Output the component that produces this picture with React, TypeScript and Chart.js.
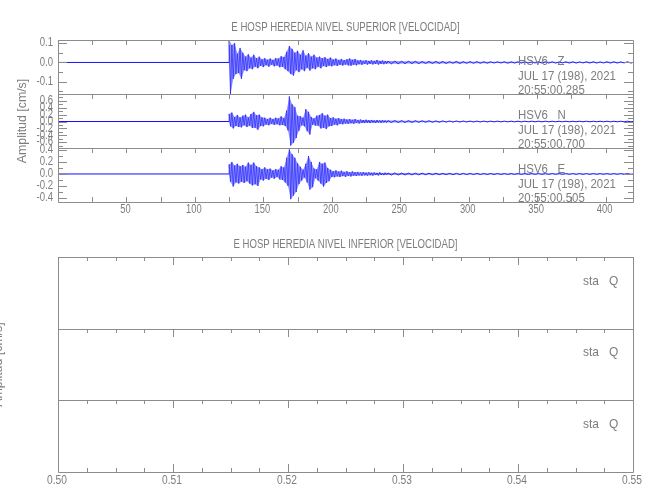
import React, { useEffect, useRef } from 'react';
import { Chart, registerables } from 'chart.js';

Chart.register(...registerables);

// ---------------- texts ----------------
const TOP_TITLE = 'E HOSP HEREDIA NIVEL SUPERIOR [VELOCIDAD]';
const BOTTOM_TITLE = 'E HOSP HEREDIA NIVEL INFERIOR [VELOCIDAD]';
const Y_TITLE = 'Amplitud [cm/s]';
const STATION = 'HSV6';
const CHANNELS = ['Z', 'N', 'E'];
const DATE_LABEL = 'JUL 17 (198), 2021';
const START_TIMES = ['20:55:00.285', '20:55:00.700', '20:55:00.505'];
const EMPTY_LABEL = 'sta   Q';

// ---------------- time axis (s) ----------------
const TIME_MIN = 0;
const TIME_MAX = 420;
const TIME_MINOR_STEP = 25;
const timeTickLabels = [50, 100, 150, 200, 250, 300, 350, 400];
const ENVELOPE_START = 125; // first 2-s envelope bin
const ENVELOPE_BIN = 2;
const TAIL_START = 241; // coda, 5-s bins
const TAIL_BIN = 5;

// ---------------- Z component (cm/s) ----------------
const zRange = [-0.163, 0.116];
const zTickLabels = [0.1, 0.0, -0.1];
const zUpper = [0.116, 0.09, 0.1, 0.045, 0.075, 0.05, 0.03, 0.042, 0.025, 0.04, 0.022, 0.03, 0.016, 0.022, 0.014, 0.02, 0.013, 0.022, 0.02, 0.032, 0.028, 0.055, 0.085, 0.07, 0.05, 0.06, 0.04, 0.063, 0.035, 0.048, 0.03, 0.04, 0.025, 0.03, 0.022, 0.027, 0.018, 0.025, 0.015, 0.02, 0.013, 0.018, 0.012, 0.016, 0.02, 0.014, 0.018, 0.01, 0.013, 0.009, 0.012, 0.008, 0.011, 0.008, 0.013, 0.008, 0.01, 0.007];
const zLower = [-0.163, -0.085, -0.06, -0.055, -0.085, -0.04, -0.045, -0.03, -0.035, -0.022, -0.03, -0.017, -0.024, -0.014, -0.022, -0.012, -0.02, -0.016, -0.025, -0.022, -0.035, -0.045, -0.06, -0.068, -0.04, -0.05, -0.035, -0.045, -0.028, -0.042, -0.03, -0.035, -0.022, -0.03, -0.018, -0.024, -0.017, -0.02, -0.014, -0.018, -0.012, -0.016, -0.011, -0.015, -0.017, -0.012, -0.015, -0.009, -0.012, -0.008, -0.011, -0.007, -0.01, -0.007, -0.011, -0.007, -0.009, -0.006];
const zTail = [0.007, 0.007, 0.006, 0.006, 0.006, 0.005, 0.005, 0.005, 0.005, 0.004, 0.005, 0.004, 0.004, 0.004, 0.0035, 0.003, 0.003, 0.0035, 0.003, 0.003, 0.003, 0.0025, 0.003, 0.003, 0.003, 0.0025, 0.003, 0.003, 0.0025, 0.003, 0.003, 0.0025, 0.003, 0.003, 0.0025, 0.003];

// ---------------- N component (cm/s) ----------------
const nRange = [-0.77, 0.8];
const nTickLabels = [0.6, 0.4, 0.2, 0.0, -0.2, -0.4, -0.6];
const nUpper = [0.22, 0.26, 0.13, 0.19, 0.12, 0.17, 0.2, 0.12, 0.22, 0.28, 0.18, 0.2, 0.12, 0.11, 0.07, 0.11, 0.07, 0.11, 0.09, 0.15, 0.1, 0.32, 0.73, 0.5, 0.42, 0.17, 0.15, 0.11, 0.36, 0.28, 0.13, 0.09, 0.17, 0.19, 0.24, 0.17, 0.2, 0.1, 0.12, 0.08, 0.1, 0.07, 0.08, 0.06, 0.07, 0.05, 0.07, 0.045, 0.055, 0.04, 0.05, 0.035, 0.045, 0.03, 0.04, 0.03, 0.035, 0.028];
const nLower = [-0.14, -0.2, -0.13, -0.16, -0.17, -0.11, -0.16, -0.12, -0.19, -0.18, -0.24, -0.13, -0.14, -0.09, -0.11, -0.07, -0.1, -0.08, -0.11, -0.1, -0.13, -0.26, -0.7, -0.62, -0.48, -0.27, -0.11, -0.14, -0.28, -0.38, -0.09, -0.12, -0.12, -0.2, -0.18, -0.22, -0.14, -0.13, -0.09, -0.11, -0.07, -0.08, -0.06, -0.07, -0.05, -0.065, -0.045, -0.055, -0.04, -0.045, -0.035, -0.045, -0.03, -0.04, -0.03, -0.035, -0.025, -0.03];
const nTail = [0.028, 0.027, 0.025, 0.025, 0.022, 0.02, 0.02, 0.018, 0.017, 0.015, 0.015, 0.014, 0.013, 0.012, 0.012, 0.011, 0.011, 0.01, 0.01, 0.01, 0.009, 0.009, 0.009, 0.009, 0.008, 0.008, 0.008, 0.008, 0.008, 0.008, 0.008, 0.008, 0.008, 0.008, 0.008, 0.008];

// ---------------- E component (cm/s) ----------------
const eRange = [-0.467, 0.433];
const eTickLabels = [0.4, 0.2, 0.0, -0.2, -0.4];
const eUpper = [0.16, 0.2, 0.14, 0.17, 0.13, 0.15, 0.12, 0.19, 0.15, 0.19, 0.13, 0.11, 0.08, 0.11, 0.08, 0.09, 0.06, 0.08, 0.07, 0.13, 0.11, 0.27, 0.41, 0.33, 0.27, 0.18, 0.12, 0.07, 0.17, 0.3, 0.2, 0.09, 0.08, 0.2, 0.17, 0.19, 0.1, 0.07, 0.045, 0.06, 0.04, 0.055, 0.035, 0.045, 0.03, 0.042, 0.03, 0.035, 0.025, 0.032, 0.022, 0.03, 0.02, 0.025, 0.018, 0.024, 0.016, 0.02];
const eLower = [-0.13, -0.21, -0.14, -0.16, -0.13, -0.15, -0.12, -0.16, -0.19, -0.17, -0.2, -0.09, -0.11, -0.08, -0.1, -0.06, -0.08, -0.05, -0.09, -0.1, -0.14, -0.2, -0.42, -0.36, -0.3, -0.17, -0.11, -0.06, -0.14, -0.26, -0.22, -0.07, -0.11, -0.16, -0.21, -0.15, -0.12, -0.05, -0.055, -0.04, -0.05, -0.035, -0.048, -0.032, -0.04, -0.028, -0.034, -0.025, -0.03, -0.022, -0.028, -0.02, -0.025, -0.018, -0.022, -0.016, -0.019, -0.015];
const eTail = [0.017, 0.017, 0.016, 0.015, 0.014, 0.013, 0.012, 0.012, 0.011, 0.011, 0.01, 0.01, 0.009, 0.009, 0.008, 0.008, 0.008, 0.007, 0.007, 0.007, 0.007, 0.006, 0.006, 0.006, 0.006, 0.006, 0.006, 0.006, 0.006, 0.006, 0.006, 0.006, 0.006, 0.006, 0.006, 0.006];

// y minor tick spacing per component
const yMinorSteps = [0.05, 0.1, 0.1];

// ---------------- lower (empty) panel ----------------
const BOTTOM_X_RANGE = [0.5, 0.55];
const BOTTOM_MINOR_STEP = 0.0025;
const BOTTOM_MAJOR_STEP = 0.01;
const bottomTickLabels = ['0.50', '0.51', '0.52', '0.53', '0.54', '0.55'];
const EMPTY_RANGE = [-1, 1];

// ---------------- style ----------------
const FONT = "'Liberation Sans', Arial, sans-serif";
const TEXT_COLOR = '#7d7d7d';
const AXIS_COLOR = '#8c8c8c';
const TRACE_COLOR = '#1010ff';
const TRACE_FILL = 'rgba(60, 60, 255, 0.55)';

type Pt = { x: number; y: number };

// one side of the envelope (upper at bin start, lower half a bin later), plus coda bins
function buildEnvelope(side: number[], tail: number[], sign: number): Pt[] {
  const shift = sign > 0 ? 0 : 0.5;
  const pts: Pt[] = [
    { x: TIME_MIN, y: 0 },
    { x: ENVELOPE_START, y: 0 },
  ];
  side.forEach((v, i) => {
    pts.push({ x: ENVELOPE_START + (i + shift) * ENVELOPE_BIN, y: v });
  });
  tail.forEach((a, i) => {
    pts.push({ x: TAIL_START + (i + shift) * TAIL_BIN, y: sign * a });
  });
  pts.push({ x: TIME_MAX, y: 0 });
  return pts;
}

// the trace itself: alternate between the upper and lower envelope values of each bin
function buildTrace(upper: number[], lower: number[], tail: number[]): Pt[] {
  const pts: Pt[] = [
    { x: TIME_MIN, y: 0 },
    { x: ENVELOPE_START, y: 0 },
  ];
  upper.forEach((u, i) => {
    const t = ENVELOPE_START + i * ENVELOPE_BIN;
    pts.push({ x: t, y: u });
    pts.push({ x: t + ENVELOPE_BIN / 2, y: lower[i] });
  });
  tail.forEach((a, i) => {
    const t = TAIL_START + i * TAIL_BIN;
    pts.push({ x: t, y: a });
    pts.push({ x: t + TAIL_BIN / 2, y: -a });
  });
  pts.push({ x: TIME_MAX, y: 0 });
  return pts;
}

const crisp = (v: number) => Math.round(v) + 0.5;
const isMultiple = (v: number, step: number) => Math.abs(v / step - Math.round(v / step)) < 1e-6;
function stepsWithin(min: number, max: number, step: number): number[] {
  const out: number[] = [];
  for (let k = Math.ceil(min / step - 1e-9); k * step <= max + 1e-9; k++) out.push(k * step);
  return out;
}

const topIds = ['yZ', 'yN', 'yE'];
const bottomIds = ['q1', 'q2', 'q3'];
const topRanges = [zRange, nRange, eRange];
const topTickLabels = [zTickLabels, nTickLabels, eTickLabels];
const components = [
  { upper: zUpper, lower: zLower, tail: zTail },
  { upper: nUpper, lower: nLower, tail: nTail },
  { upper: eUpper, lower: eLower, tail: eTail },
];

function drawText(
  ctx: CanvasRenderingContext2D,
  text: string,
  x: number,
  y: number,
  size: number,
  squeeze: number,
  align: CanvasTextAlign,
  rotate = false,
) {
  ctx.save();
  ctx.translate(x, y);
  if (rotate) ctx.rotate(-Math.PI / 2);
  ctx.scale(squeeze, 1);
  ctx.font = `${size}px ${FONT}`;
  ctx.textAlign = align;
  ctx.textBaseline = 'middle';
  ctx.fillStyle = TEXT_COLOR;
  ctx.fillText(text, 0, 0);
  ctx.restore();
}

function framesPlugin(kind: 'top' | 'bottom') {
  return {
    id: 'frames-' + kind,
    afterDraw(chart: any) {
      const { ctx, chartArea } = chart;
      const xs = chart.scales.x;
      const left = chartArea.left;
      const right = chartArea.right;
      const isTop = kind === 'top';
      const ids = isTop ? topIds : bottomIds;
      const xMinor = isTop ? TIME_MINOR_STEP : BOTTOM_MINOR_STEP;
      const xTicks = stepsWithin(xs.min, xs.max, xMinor);
      const xTickLen = (v: number) => (isTop ? 5 : isMultiple(v, BOTTOM_MAJOR_STEP) ? 8 : 4);

      ctx.save();
      ctx.strokeStyle = AXIS_COLOR;
      ctx.lineWidth = 1;
      ids.forEach((id, idx) => {
        const s = chart.scales[id];
        const top = Math.round(s.top);
        const bottom = Math.round(s.bottom);
        ctx.beginPath();
        ctx.rect(crisp(left), crisp(top), Math.round(right) - Math.round(left), bottom - top);
        ctx.stroke();
        ctx.beginPath();
        xTicks.forEach((v) => {
          const px = crisp(xs.getPixelForValue(v));
          const len = xTickLen(v);
          ctx.moveTo(px, top);
          ctx.lineTo(px, top + len);
          if (idx === ids.length - 1) {
            ctx.moveTo(px, bottom);
            ctx.lineTo(px, bottom - len);
          }
        });
        if (isTop) {
          const labels = topTickLabels[idx];
          stepsWithin(s.min, s.max, yMinorSteps[idx]).forEach((v) => {
            const py = crisp(s.getPixelForValue(v));
            const major = labels.some((l) => Math.abs(l - v) < 1e-6);
            const len = major ? 9 : 5;
            ctx.moveTo(left, py);
            ctx.lineTo(left + len, py);
            ctx.moveTo(right, py);
            ctx.lineTo(right - len, py);
          });
        }
        ctx.stroke();
      });
      ctx.restore();

      // texts
      const cx = (left + right) / 2;
      const firstTop = chart.scales[ids[0]].top;
      const lastBottom = chart.scales[ids[ids.length - 1]].bottom;
      const midScale = chart.scales[ids[1]];
      const midY = (midScale.top + midScale.bottom) / 2;
      drawText(ctx, isTop ? TOP_TITLE : BOTTOM_TITLE, cx, firstTop - 12, 12, 0.8, 'center');
      drawText(ctx, Y_TITLE, isTop ? 22 : -2, midY, 13, 0.95, 'center', true);
      if (isTop) {
        timeTickLabels.forEach((v) => {
          drawText(ctx, String(v), xs.getPixelForValue(v) - 1, lastBottom + 8, 12, 0.78, 'center');
        });
        ids.forEach((id, idx) => {
          const s = chart.scales[id];
          topTickLabels[idx].forEach((v) => {
            const txt = (Math.abs(v) < 1e-9 ? 0 : v).toFixed(1);
            drawText(ctx, txt, left - 5, s.getPixelForValue(v), 12, 0.8, 'right');
          });
          const x = right - 115;
          drawText(ctx, `${STATION}   ${CHANNELS[idx]}`, x, s.top + 21, 13, 0.88, 'left');
          drawText(ctx, DATE_LABEL, x, s.top + 36, 13, 0.88, 'left');
          drawText(ctx, START_TIMES[idx], x, s.top + 50, 13, 0.88, 'left');
        });
      } else {
        bottomTickLabels.forEach((t) => {
          drawText(ctx, t, xs.getPixelForValue(parseFloat(t)) - 1, lastBottom + 9, 12, 0.85, 'center');
        });
        ids.forEach((id) => {
          const s = chart.scales[id];
          drawText(ctx, EMPTY_LABEL, right - 50, s.top + 24, 13, 0.92, 'left');
        });
      }
    },
  };
}

function yAxis(idx: number, kind: 'top' | 'bottom') {
  const range = kind === 'top' ? topRanges[idx] : EMPTY_RANGE;
  return {
    type: 'linear',
    position: 'left',
    stack: kind,
    stackWeight: 1,
    min: range[0],
    max: range[1],
    afterFit: (s: any) => {
      s.width = 58;
    },
    grid: { display: false, drawTicks: false },
    border: { display: false },
    ticks: { display: false },
  };
}

function xAxis(min: number, max: number, height: number) {
  return {
    type: 'linear',
    position: 'bottom',
    min,
    max,
    afterFit: (s: any) => {
      s.height = height;
    },
    grid: { display: false, drawTicks: false },
    border: { display: false },
    ticks: { display: false },
  };
}

function topConfig(): any {
  const scales: any = { x: xAxis(TIME_MIN, TIME_MAX, 22) };
  // stacked left axes are laid out last-defined-first (top), so define bottom panel first
  for (let i = topIds.length - 1; i >= 0; i--) scales[topIds[i]] = yAxis(i, 'top');
  const datasets: any[] = [];
  components.forEach((c, i) => {
    const common = {
      yAxisID: topIds[i],
      xAxisID: 'x',
      pointRadius: 0,
      tension: 0,
    };
    datasets.push({
      ...common,
      label: `${STATION} ${CHANNELS[i]} max`,
      data: buildEnvelope(c.upper, c.tail, 1),
      borderWidth: 0,
      borderColor: 'rgba(0,0,0,0)',
      backgroundColor: TRACE_FILL,
      fill: '+1',
    });
    datasets.push({
      ...common,
      label: `${STATION} ${CHANNELS[i]} min`,
      data: buildEnvelope(c.lower, c.tail, -1),
      borderWidth: 0,
      borderColor: 'rgba(0,0,0,0)',
      fill: false,
    });
    datasets.push({
      ...common,
      label: `${STATION} ${CHANNELS[i]}`,
      data: buildTrace(c.upper, c.lower, c.tail),
      borderColor: TRACE_COLOR,
      borderWidth: 1,
      segment: {
        borderWidth: (sc: any) => (Math.abs(sc.p1.y - sc.p0.y) < 3 ? 1 : 0.7),
      },
      fill: false,
    });
  });
  return {
    type: 'line',
    data: { datasets },
    options: {
      responsive: false,
      animation: false,
      parsing: false,
      normalized: true,
      events: [],
      layout: { padding: { left: 0, right: 17, top: 40, bottom: 276 } },
      plugins: { legend: { display: false }, tooltip: { enabled: false } },
      scales,
    },
    plugins: [framesPlugin('top')],
  };
}

function bottomConfig(): any {
  const scales: any = { x: xAxis(BOTTOM_X_RANGE[0], BOTTOM_X_RANGE[1], 20) };
  for (let i = bottomIds.length - 1; i >= 0; i--) scales[bottomIds[i]] = yAxis(i, 'bottom');
  return {
    type: 'line',
    data: {
      datasets: bottomIds.map((id) => ({
        label: EMPTY_LABEL,
        data: [] as Pt[],
        yAxisID: id,
        xAxisID: 'x',
        borderColor: TRACE_COLOR,
        borderWidth: 1,
        pointRadius: 0,
      })),
    },
    options: {
      responsive: false,
      animation: false,
      parsing: false,
      events: [],
      layout: { padding: { left: 0, right: 17, top: 257, bottom: 8 } },
      plugins: { legend: { display: false }, tooltip: { enabled: false } },
      scales,
    },
    plugins: [framesPlugin('bottom')],
  };
}

export default function App() {
  const topRef = useRef<HTMLCanvasElement>(null);
  const bottomRef = useRef<HTMLCanvasElement>(null);

  useEffect(() => {
    const topChart = new Chart(topRef.current as HTMLCanvasElement, topConfig());
    const bottomChart = new Chart(bottomRef.current as HTMLCanvasElement, bottomConfig());
    return () => {
      topChart.destroy();
      bottomChart.destroy();
    };
  }, []);

  const canvasStyle: React.CSSProperties = { position: 'absolute', left: 0, top: 0 };
  return (
    <div style={{ position: 'fixed', left: 0, top: 0, width: 650, height: 500, background: '#ffffff' }}>
      <canvas ref={bottomRef} width={650} height={500} style={canvasStyle} />
      <canvas ref={topRef} width={650} height={500} style={canvasStyle} />
    </div>
  );
}
